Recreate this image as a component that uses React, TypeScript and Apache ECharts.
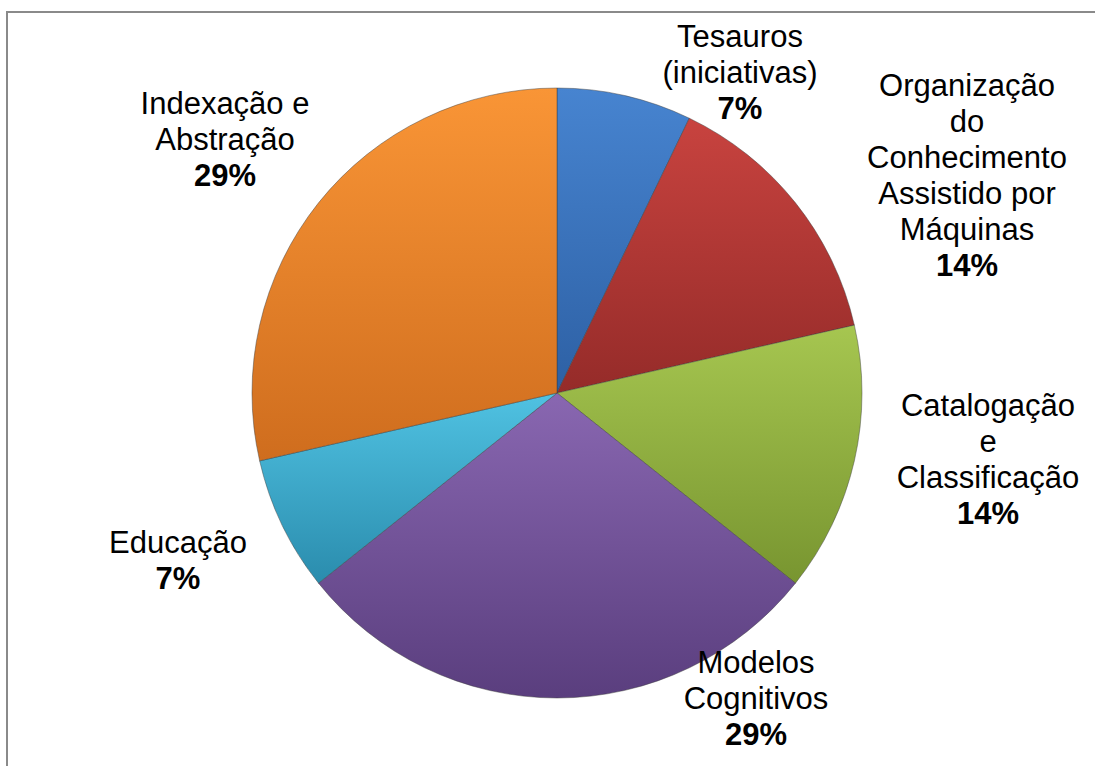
import React, { useEffect, useRef } from "react";
import * as echarts from "echarts";

const CATEGORIES = [
  "Tesauros\n(iniciativas)",
  "Organização\ndo\nConhecimento\nAssistido por\nMáquinas",
  "Catalogação\ne\nClassificação",
  "Modelos\nCognitivos",
  "Educação",
  "Indexação e\nAbstração",
];
const VALUES = [1, 2, 2, 4, 1, 4];
const COLORS_TOP = ["#4784D0", "#C8433F", "#A6C650", "#8967B1", "#50C2E2", "#F99536"];
const COLORS_BOTTOM = ["#2D60A4", "#952B29", "#789530", "#5A3E7E", "#2A8CAD", "#CF6D1E"];
// label block centres (layout only)
const LABEL_POS: [number, number][] = [
  [740, 72],
  [967, 175],
  [988, 459],
  [756, 698],
  [178, 560],
  [225, 139],
];

export default function App() {
  const ref = useRef<HTMLDivElement>(null);
  useEffect(() => {
    if (!ref.current) return;
    const chart = echarts.init(ref.current, null, { renderer: "svg" });
    const data = VALUES.map((v, i) => ({
      value: v,
      name: CATEGORIES[i],
      itemStyle: {
        color: new echarts.graphic.LinearGradient(0, 0, 0, 1, [
          { offset: 0, color: COLORS_TOP[i] },
          { offset: 1, color: COLORS_BOTTOM[i] },
        ]),
      },
    }));
    chart.setOption({
      animation: false,
      backgroundColor: "#ffffff",
      textStyle: { fontFamily: "Liberation Sans, Arial, sans-serif" },
      graphic: [
        {
          type: "rect",
          shape: { x: 7, y: 12, width: 1200, height: 900 },
          style: { fill: "none", stroke: "#8a8a8a", lineWidth: 2 },
          silent: true,
        },
      ],
      series: [
        {
          type: "pie",
          center: [557, 393],
          radius: 305,
          startAngle: 90,
          clockwise: true,
          avoidLabelOverlap: false,
          data,
          itemStyle: {
            borderColor: "rgba(60,60,60,0.45)",
            borderWidth: 1,
          },
          labelLine: { show: false },
          label: {
            show: true,
            position: "outside",
            formatter: (p: any) => {
              const lines = String(p.name)
                .split("\n")
                .map((l: string) => `{n|${l}}`)
                .join("\n");
              return `${lines}\n{p|${Math.round(p.percent)}%}`;
            },
            align: "center",
            rich: {
              n: {
                fontSize: 31,
                lineHeight: 36,
                color: "#000",
                fontFamily: "Liberation Sans, Arial, sans-serif",
                align: "center",
              },
              p: {
                fontSize: 31,
                lineHeight: 36,
                fontWeight: "bold",
                color: "#000",
                fontFamily: "Liberation Sans, Arial, sans-serif",
                align: "center",
              },
            },
          },
          labelLayout: (params: any) => {
            const pos = LABEL_POS[params.dataIndex];
            return {
              x: pos[0],
              y: pos[1],
              align: "center",
              verticalAlign: "middle",
            };
          },
        },
      ],
    });
    return () => chart.dispose();
  }, []);
  return (
    <div
      ref={ref}
      style={{ position: "fixed", left: 0, top: 0, width: 1095, height: 766 }}
    />
  );
}
